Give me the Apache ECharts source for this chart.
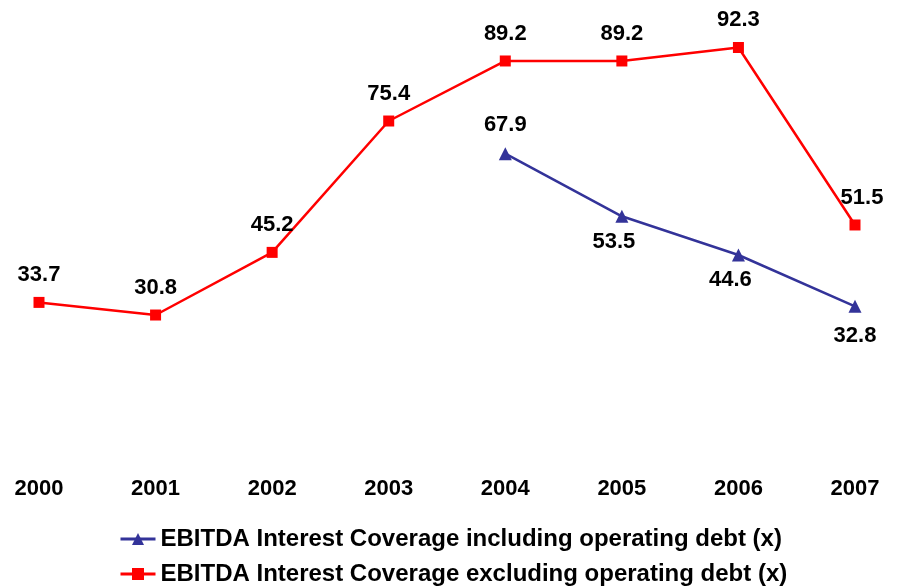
<!DOCTYPE html>
<html><head><meta charset="utf-8">
<script src="https://cdn.jsdelivr.net/npm/echarts@6/dist/echarts.min.js"></script>
<style>html,body{margin:0;padding:0;background:#fff}#c{width:910px;height:587px}</style>
</head><body><div id="c"></div>
<script>
const years = ['2000','2001','2002','2003','2004','2005','2006','2007'];
const inclOpDebt = [null, null, null, null, 67.9, 53.5, 44.6, 32.8];
const exclOpDebt = [33.7, 30.8, 45.2, 75.4, 89.2, 89.2, 92.3, 51.5];
const seriesNames = ['EBITDA Interest Coverage including operating debt (x)',
                     'EBITDA Interest Coverage excluding operating debt (x)'];

const FONT = '"Liberation Sans", Arial, sans-serif';
const labelBase = {show: true, fontFamily: FONT, fontWeight: 'bold', fontSize: 22, color: '#000', formatter: p => p.value.toFixed(1)};

// label placement (styling only)
const bluePlace = {4: {position: 'top', distance: 11}, 5: {position: 'bottom', distance: 8, offset: [-8, 0]},
                   6: {position: 'bottom', distance: 7, offset: [-8, 0]}, 7: {position: 'bottom', distance: 12}};
const redPlace = {7: {position: 'top', distance: 11, offset: [7, 0]}};

const blueData = inclOpDebt.map((v, i) => v == null ? null : ({value: v, label: Object.assign({}, bluePlace[i] || {})}));
const redData = exclOpDebt.map((v, i) => ({value: v, label: Object.assign({position: 'top', distance: 11}, redPlace[i] || {})}));

const legendBase = {orient: 'horizontal', left: 119, padding: 0, itemWidth: 35, itemHeight: 15,
  lineStyle: {width: 3},
  textStyle: {fontFamily: FONT, fontWeight: 'bold', fontSize: 24, color: '#000'}};

const chart = echarts.init(document.getElementById('c'), null, {renderer: 'canvas'});
chart.setOption({
  animation: false,
  grid: {left: 39, right: 55, top: 14, bottom: 138},
  xAxis: {
    type: 'category', data: years, boundaryGap: false,
    axisLine: {show: false}, axisTick: {show: false}, splitLine: {show: false},
    axisLabel: {margin: 29, fontFamily: FONT, fontWeight: 'bold', fontSize: 22, color: '#000'}
  },
  yAxis: {type: 'value', min: 0, max: 100, show: false, splitLine: {show: false}},
  legend: [
    Object.assign({top: 527, data: [seriesNames[0]]}, legendBase),
    Object.assign({top: 562, data: [seriesNames[1]]}, legendBase)
  ],
  series: [
    {name: seriesNames[0], type: 'line', data: blueData, color: '#333399',
     symbol: 'triangle', symbolSize: 13, lineStyle: {width: 2.5, color: '#333399'},
     itemStyle: {color: '#333399'}, label: labelBase, connectNulls: false},
    {name: seriesNames[1], type: 'line', data: redData, color: '#ff0000',
     symbol: 'rect', symbolSize: 11, lineStyle: {width: 2.5, color: '#ff0000'},
     itemStyle: {color: '#ff0000'}, label: labelBase}
  ]
});
</script></body></html>
